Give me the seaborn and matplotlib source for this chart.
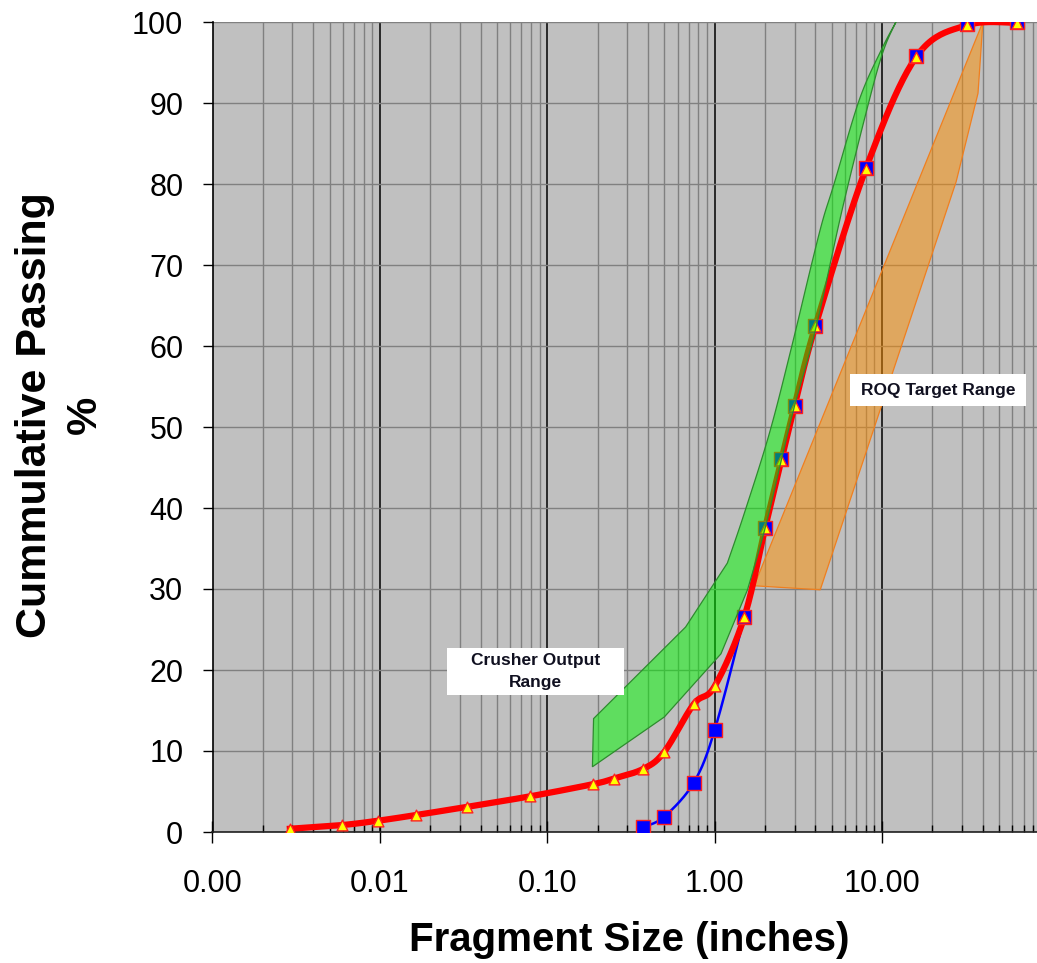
import numpy as np
import pandas as pd
import matplotlib
matplotlib.use("Agg")
import matplotlib.pyplot as plt
import seaborn as sns
from matplotlib.ticker import FixedLocator, FuncFormatter, NullFormatter
from matplotlib.patches import Polygon, Rectangle

# ---------------- data ----------------
blue_size = [0.375, 0.5, 0.75, 1.0, 1.5, 2.0, 2.5, 3.0, 4.0, 8.0, 16.0, 32.0, 64.0]
blue_pass = [0.6, 1.9, 6.1, 12.6, 26.5, 37.5, 46.0, 52.6, 62.5, 82.0, 95.8, 99.7, 100.0]

red_size = [0.0029, 0.0059, 0.0098, 0.0165, 0.0331, 0.0787, 0.187, 0.25, 0.375, 0.5,
            0.75, 1.0, 1.5, 2.0, 2.5, 3.0, 4.0, 8.0, 16.0, 32.0, 64.0]
red_pass = [0.4, 0.85, 1.4, 2.1, 3.1, 4.4, 5.9, 6.6, 7.8, 9.9,
            15.8, 18.0, 26.5, 37.5, 45.9, 52.6, 62.5, 81.9, 95.7, 99.6, 99.9]

crusher_upper_size = [0.189, 0.67, 1.19, 1.5, 2.12, 2.85, 3.76, 4.43, 5.18, 7.31, 9.86, 12.1]
crusher_upper_pass = [14.0, 25.3, 33.2, 39.3, 49.2, 59.5, 69.8, 75.6, 80.1, 90.4, 96.5, 100.0]
crusher_lower_size = [0.186, 0.5, 1.09, 1.57, 2.0, 2.5, 3.0, 4.04, 5.8, 8.4, 10.2, 12.1]
crusher_lower_pass = [8.05, 14.2, 22.0, 29.9, 37.5, 45.9, 52.6, 62.4, 77.0, 90.4, 96.5, 100.0]

roq_size = [1.72, 4.27, 27.7, 37.4, 40.0]
roq_pass = [30.4, 29.9, 80.3, 91.2, 100.0]

x_ticks = [0.001, 0.01, 0.1, 1.0, 10.0]
y_ticks = list(range(0, 101, 10))


def smooth_curve(xs, ys, n=24):
    """Excel-style smoothed line (Catmull-Rom Bezier) in log-x space."""
    lx = np.log10(np.asarray(xs, float))
    y = np.asarray(ys, float)
    P = np.column_stack([lx, y])
    out = [P[0]]
    m = len(P)
    t = np.linspace(0, 1, n)[1:, None]
    for i in range(m - 1):
        p0 = P[max(i - 1, 0)]
        p1 = P[i]
        p2 = P[i + 1]
        p3 = P[min(i + 2, m - 1)]
        b1 = p1 + (p2 - p0) / 6.0
        b2 = p2 - (p3 - p1) / 6.0
        seg = ((1 - t) ** 3) * p1 + 3 * ((1 - t) ** 2) * t * b1 + 3 * (1 - t) * t ** 2 * b2 + t ** 3 * p2
        out.extend(seg)
    out = np.array(out)
    return 10 ** out[:, 0], out[:, 1]


def edge(xs, ys, k):
    """straight segments up to index k, smoothed beyond it"""
    sx, sy = smooth_curve(xs[k:], ys[k:])
    return np.concatenate([np.asarray(xs[:k], float), sx]), np.concatenate([np.asarray(ys[:k], float), sy])


W, H = 1037, 963
fig = plt.figure(figsize=(W / 100, H / 100), dpi=100)
L, R, T, B = 212.5, 1037, 22, 832
ax = fig.add_axes([L / W, 1 - B / H, (R - L) / W, (B - T) / H])
ax.set_xscale("log")
ax.set_facecolor("#C0C0C0")
ax.set_xlim(0.001, 84.2)
ax.set_ylim(0, 100)

# grids
ax.xaxis.set_major_locator(FixedLocator(x_ticks))
minor = [m * 10.0 ** e for e in range(-3, 2) for m in range(2, 10)]
ax.xaxis.set_minor_locator(FixedLocator(minor))
ax.xaxis.set_minor_formatter(NullFormatter())
ax.xaxis.set_major_formatter(FuncFormatter(lambda v, p: f"{v:.2f}"))
ax.yaxis.set_major_locator(FixedLocator(y_ticks))
ax.grid(which="minor", axis="x", color="#808080", lw=1.0, zorder=0)
ax.grid(which="major", axis="x", color="#000000", lw=1.1, zorder=0)
ax.grid(which="major", axis="y", color="#808080", lw=1.0, zorder=0)
ax.set_axisbelow(True)

for s in ["top", "right"]:
    ax.spines[s].set_visible(False)
ax.spines["left"].set_color("black")
ax.spines["left"].set_linewidth(1.2)
ax.spines["bottom"].set_color("#202020")
ax.spines["bottom"].set_linewidth(1.2)

ax.tick_params(axis="y", which="major", direction="out", length=7, width=1.0,
               pad=14, labelsize=22, colors="black")
ax.tick_params(axis="x", which="major", direction="inout", length=16, width=1.0,
               pad=19, labelsize=22, colors="black")
ax.tick_params(axis="x", which="minor", direction="in", length=5, width=1.0, colors="black")
for lab in ax.get_xticklabels() + ax.get_yticklabels():
    lab.set_fontfamily(["Liberation Sans", "DejaVu Sans"])

# ROQ target range (orange)
roq = Polygon(np.column_stack([roq_size, roq_pass]), closed=True,
              facecolor=(1.0, 0.56, 0.0, 0.5), edgecolor="#F07F1E", lw=0.9, zorder=2)
ax.add_patch(roq)

# smoothed lines
bx, by = smooth_curve(blue_size, blue_pass)
rx, ry = smooth_curve(red_size, red_pass)
sns.lineplot(x=bx, y=by, ax=ax, color="#0000FF", lw=1.8, sort=False, estimator=None, zorder=3)
sns.lineplot(x=rx, y=ry, ax=ax, color="#FF0000", lw=4.5, sort=False, estimator=None, zorder=3.5)

# markers
sns.scatterplot(x=blue_size, y=blue_pass, ax=ax, marker="s", s=110, color="#0000FF",
                edgecolor="#FF2020", linewidth=1.0, zorder=4)
sns.scatterplot(x=red_size, y=red_pass, ax=ax, marker="^", s=60, color="#FFFF00",
                edgecolor="#FF2020", linewidth=1.0, zorder=5)

# Crusher output range (green, translucent, on top)
ux, uy = edge(crusher_upper_size, crusher_upper_pass, 2)
lx_, ly_ = edge(crusher_lower_size, crusher_lower_pass, 3)
gverts = np.vstack([np.column_stack([ux, uy]), np.column_stack([lx_, ly_])[::-1]])
green = Polygon(gverts, closed=True, facecolor=(0.0, 0.98, 0.0, 0.5),
                edgecolor="#2E8B2E", lw=0.9, zorder=6)
ax.add_patch(green)

# labels in white boxes
def box_label(px0, px1, py0, py1, text):
    x0 = (px0 - L) / (R - L)
    x1 = (px1 - L) / (R - L)
    y0 = (B - py1) / (B - T)
    y1 = (B - py0) / (B - T)
    ax.add_patch(Rectangle((x0, y0), x1 - x0, y1 - y0, transform=ax.transAxes,
                           facecolor="white", edgecolor="none", zorder=7))
    ax.text((x0 + x1) / 2, (y0 + y1) / 2, text, transform=ax.transAxes, ha="center",
            va="center", fontsize=12.5, fontweight="bold", family=["Liberation Sans", "DejaVu Sans"],
            color="#101020", linespacing=1.5, zorder=8)

box_label(447, 624, 648, 695, "Crusher Output\nRange")
box_label(850, 1026, 374, 406, "ROQ Target Range")

ax.set_xlabel("Fragment Size (inches)", fontsize=29, fontweight="bold",
              family=["Liberation Sans", "DejaVu Sans"], va="center")
ax.xaxis.set_label_coords((629 - L) / (R - L), (B - 940) / (B - T))
ax.set_ylabel("Cummulative Passing\n%", fontsize=31, fontweight="bold",
              family=["Liberation Sans", "DejaVu Sans"], va="center", ha="center",
              multialignment="center", linespacing=1.3)
ax.yaxis.set_label_coords((60 - L) / (R - L), (B - 415) / (B - T))

fig.savefig("out.png", dpi=100)
